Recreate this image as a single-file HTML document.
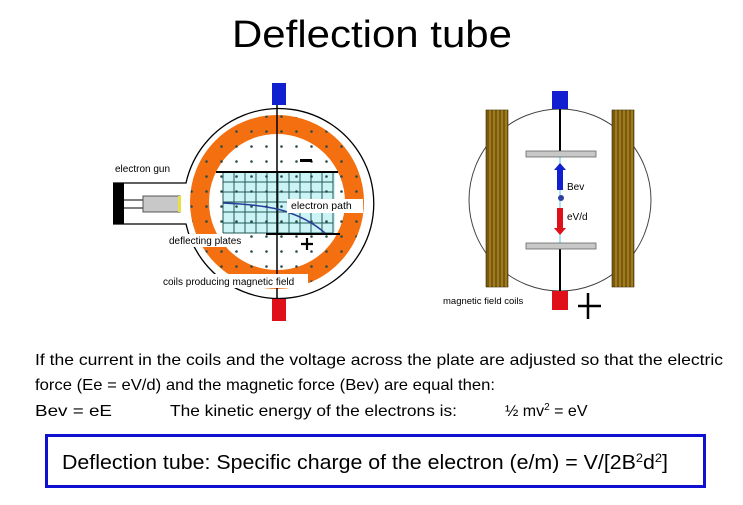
<!DOCTYPE html>
<html><head><meta charset="utf-8"><style>
body{margin:0;background:#fff;}
svg{display:block;font-family:"Liberation Sans",sans-serif;}
</style></head><body>
<svg width="743" height="505" viewBox="0 0 743 505" xmlns="http://www.w3.org/2000/svg">
<defs>
<pattern id="dots" x="4" y="4" width="15" height="15" patternUnits="userSpaceOnUse">
<circle cx="7.5" cy="7.5" r="1.3" fill="#2a4a4a"/>
</pattern>
<clipPath id="cc"><circle cx="277" cy="202" r="87"/></clipPath>
</defs>
<text x="372" y="47" font-size="38" text-anchor="middle" textLength="280" lengthAdjust="spacingAndGlyphs">Deflection tube</text>

<!-- LEFT DIAGRAM -->
<path d="M113 183 L186 183 A95 95 0 1 1 186 224 L113 224" fill="#fff" stroke="#000" stroke-width="1.3"/>
<circle cx="277" cy="202" r="77.5" fill="none" stroke="#f36f0f" stroke-width="19"/>
<rect x="223" y="172" width="112" height="61" fill="#ccf3f6"/>
<g stroke="#1f5a55" stroke-width="1">
<path d="M223 172V233M234 172V233M245 172V233M256 172V233M267 172V233M278 172V233M289 172V233M300 172V233M311 172V233M322 172V233M333 172V233"/>
<path d="M223 182H333M223 192H333M223 202H333M223 212H333M223 223H333M223 233H333"/>
</g>
<rect x="90" y="90" width="375" height="225" fill="url(#dots)" clip-path="url(#cc)"/>
<line x1="277" y1="105" x2="277" y2="300" stroke="#000" stroke-width="1.5"/>
<line x1="216" y1="172" x2="338" y2="172" stroke="#000" stroke-width="2"/>
<line x1="266" y1="234" x2="340" y2="234" stroke="#000" stroke-width="2"/>
<path d="M223 203 Q270 205 290 213 Q310 220 325 233" fill="none" stroke="#283f9a" stroke-width="1.5"/>
<rect x="272" y="83" width="14" height="22" fill="#1020d0"/>
<rect x="272" y="299" width="14" height="22" fill="#e0101a"/>
<rect x="113" y="183" width="11" height="41" fill="#000"/>
<line x1="124" y1="200" x2="143" y2="200" stroke="#000" stroke-width="1"/>
<line x1="124" y1="208" x2="143" y2="208" stroke="#000" stroke-width="1"/>
<rect x="143" y="196" width="37" height="16" fill="#c8c8c8" stroke="#555" stroke-width="1"/>
<rect x="178" y="196" width="3" height="16" fill="#e8e040"/>
<rect x="300" y="159" width="12" height="3" fill="#000"/>
<path d="M307 238v12M301 244h12" stroke="#000" stroke-width="2.2"/>
<text x="115" y="172" font-size="10">electron gun</text>
<rect x="287" y="199" width="76" height="14" fill="#fff"/>
<text x="291" y="209" font-size="10.5">electron path</text>
<rect x="167" y="234" width="82" height="13" fill="#fff"/>
<text x="169" y="244" font-size="10">deflecting plates</text>
<rect x="160" y="274" width="148" height="14" fill="#fff"/>
<text x="163" y="285" font-size="10">coils producing magnetic field</text>

<!-- RIGHT DIAGRAM -->
<circle cx="560" cy="200" r="91" fill="#fff" stroke="#444" stroke-width="1"/>
<line x1="560" y1="109" x2="560" y2="151" stroke="#000" stroke-width="2"/>
<line x1="560" y1="248" x2="560" y2="291" stroke="#000" stroke-width="2"/>
<line x1="560" y1="157" x2="560" y2="243" stroke="#4fc8e8" stroke-width="1"/>
<g fill="#7a5a10" stroke="#3a2a00" stroke-width="0.6">
<rect x="486" y="110" width="22" height="177"/>
<rect x="612" y="110" width="22" height="177"/>
</g>
<g stroke="#d4b030" stroke-width="0.8">
<path d="M490 110V287M494 110V287M498 110V287M502 110V287M506 110V287M616 110V287M620 110V287M624 110V287M628 110V287M632 110V287"/>
</g>
<rect x="526" y="151" width="70" height="6" fill="#c8c8c8" stroke="#666" stroke-width="0.8"/>
<rect x="526" y="243" width="70" height="6" fill="#c8c8c8" stroke="#666" stroke-width="0.8"/>
<rect x="552" y="91" width="16" height="18" fill="#1020d0"/>
<rect x="552" y="291" width="16" height="19" fill="#e0101a"/>
<path d="M557 190V170H554L560 163L566 170H563V190Z" fill="#1020d0"/>
<circle cx="561" cy="198" r="3" fill="#3040a0"/>
<path d="M557 208V228H554L560 235L566 228H563V208Z" fill="#e0101a"/>
<text x="567" y="190" font-size="10">Bev</text>
<text x="567" y="220" font-size="10">eV/d</text>
<path d="M588 293v26M578 306h23" stroke="#000" stroke-width="2.5"/>
<text x="443" y="304" font-size="9.5">magnetic field coils</text>

<!-- TEXT -->
<g font-size="16">
<text x="35" y="365" textLength="688" lengthAdjust="spacingAndGlyphs">If the current in the coils and the voltage across the plate are adjusted so that the electric</text>
<text x="35" y="390" textLength="460" lengthAdjust="spacingAndGlyphs">force (Ee = eV/d) and the magnetic force (Bev) are equal then:</text>
<text x="35" y="416" textLength="77" lengthAdjust="spacingAndGlyphs">Bev = eE</text>
<text x="170" y="416" textLength="287" lengthAdjust="spacingAndGlyphs">The kinetic energy of the electrons is:</text>
<text x="505" y="416">½ mv<tspan font-size="10" dy="-6">2</tspan><tspan dy="6"> = eV</tspan></text>
</g>
<rect x="46.5" y="435.5" width="658" height="51" fill="none" stroke="#1010d0" stroke-width="3"/>
<text x="62" y="469" font-size="20" textLength="606" lengthAdjust="spacingAndGlyphs">Deflection tube:  Specific charge of the electron (e/m) = V/[2B<tspan font-size="12" dy="-7">2</tspan><tspan dy="7">d</tspan><tspan font-size="12" dy="-7">2</tspan><tspan dy="7">]</tspan></text>
</svg>
</body></html>
